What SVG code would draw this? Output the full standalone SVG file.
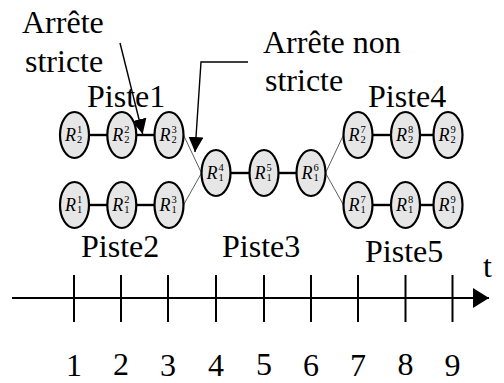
<svg xmlns="http://www.w3.org/2000/svg" width="504" height="383" viewBox="0 0 504 383" font-family="'Liberation Serif', Tinos, 'Times New Roman', 'DejaVu Serif', serif">
<defs>
<style>
text{font-family:'Liberation Serif', Tinos, 'Times New Roman', 'DejaVu Serif', serif;fill:#000}
.lbl{font-size:32px}
.node ellipse{fill:#e6e6e6;stroke:#000;stroke-width:2.2}
.r{font-size:18px;font-style:italic}
.s{font-size:10.5px}
.thick{stroke:#000;stroke-width:2.4;fill:none}
.thin{stroke:#333;stroke-width:0.8;fill:none}
.ptr{stroke:#000;stroke-width:1.4;fill:none}
.tick{stroke:#000;stroke-width:2}
</style>
<marker id="ah" markerWidth="16" markerHeight="16" refX="15" refY="7.5" orient="auto" markerUnits="userSpaceOnUse">
<path d="M0,0 L15,7.5 L0,15 Z" fill="#000"/>
</marker>
<marker id="ax" markerWidth="17" markerHeight="21" refX="16" refY="10" orient="auto" markerUnits="userSpaceOnUse">
<path d="M0,0 L16,10 L0,20 Z" fill="#000"/>
</marker>
</defs>
<rect width="504" height="383" fill="#fff"/>

<g id="connectors">
<line class="thick" x1="89" y1="135" x2="107" y2="135"/>
<line class="thick" x1="136.5" y1="135" x2="154.5" y2="135"/>
<line class="thick" x1="89" y1="205" x2="107" y2="205"/>
<line class="thick" x1="136.5" y1="205" x2="154.5" y2="205"/>
<line class="thin" x1="183.5" y1="135" x2="201.5" y2="173"/>
<line class="thin" x1="183.5" y1="205" x2="201.5" y2="173"/>
<line class="thick" x1="230.5" y1="173" x2="249.5" y2="173"/>
<line class="thick" x1="278.5" y1="173" x2="296.5" y2="173"/>
<line class="thin" x1="325.5" y1="173" x2="343.5" y2="135"/>
<line class="thin" x1="325.5" y1="173" x2="343.5" y2="205"/>
<line class="thick" x1="372.5" y1="135" x2="391" y2="135"/>
<line class="thick" x1="420" y1="135" x2="433.5" y2="135"/>
<line class="thick" x1="372.5" y1="205" x2="391" y2="205"/>
<line class="thick" x1="420" y1="205" x2="433.5" y2="205"/>
<line class="ptr" x1="120" y1="43" x2="142.7" y2="134" marker-end="url(#ah)"/>
<polyline class="ptr" points="248,62 201,62 195,152" marker-end="url(#ah)"/>
</g>

<g id="R2_1" class="node"><ellipse cx="74.5" cy="135" rx="14.5" ry="23"/><text class="r" x="65" y="141">R</text><text class="s" x="77" y="133">1</text><text class="s" x="77" y="143">2</text></g>
<g id="R2_2" class="node"><ellipse cx="121.8" cy="135" rx="14.5" ry="23"/><text class="r" x="112.3" y="141">R</text><text class="s" x="124.3" y="133">2</text><text class="s" x="124.3" y="143">2</text></g>
<g id="R2_3" class="node"><ellipse cx="169" cy="135" rx="14.5" ry="23"/><text class="r" x="159.5" y="141">R</text><text class="s" x="171.5" y="133">3</text><text class="s" x="171.5" y="143">2</text></g>
<g id="R1_1" class="node"><ellipse cx="74.5" cy="205" rx="14.5" ry="23"/><text class="r" x="65" y="211">R</text><text class="s" x="77" y="203">1</text><text class="s" x="77" y="213">1</text></g>
<g id="R1_2" class="node"><ellipse cx="121.8" cy="205" rx="14.5" ry="23"/><text class="r" x="112.3" y="211">R</text><text class="s" x="124.3" y="203">2</text><text class="s" x="124.3" y="213">1</text></g>
<g id="R1_3" class="node"><ellipse cx="169" cy="205" rx="14.5" ry="23"/><text class="r" x="159.5" y="211">R</text><text class="s" x="171.5" y="203">3</text><text class="s" x="171.5" y="213">1</text></g>
<g id="R1_4" class="node"><ellipse cx="216" cy="173" rx="14.5" ry="23"/><text class="r" x="206.5" y="179">R</text><text class="s" x="218.5" y="171">4</text><text class="s" x="218.5" y="181">1</text></g>
<g id="R1_5" class="node"><ellipse cx="264" cy="173" rx="14.5" ry="23"/><text class="r" x="254.5" y="179">R</text><text class="s" x="266.5" y="171">5</text><text class="s" x="266.5" y="181">1</text></g>
<g id="R1_6" class="node"><ellipse cx="311" cy="173" rx="14.5" ry="23"/><text class="r" x="301.5" y="179">R</text><text class="s" x="313.5" y="171">6</text><text class="s" x="313.5" y="181">1</text></g>
<g id="R2_7" class="node"><ellipse cx="358" cy="135" rx="14.5" ry="23"/><text class="r" x="348.5" y="141">R</text><text class="s" x="360.5" y="133">7</text><text class="s" x="360.5" y="143">2</text></g>
<g id="R2_8" class="node"><ellipse cx="405.5" cy="135" rx="14.5" ry="23"/><text class="r" x="396" y="141">R</text><text class="s" x="408" y="133">8</text><text class="s" x="408" y="143">2</text></g>
<g id="R2_9" class="node"><ellipse cx="448" cy="135" rx="14.5" ry="23"/><text class="r" x="438.5" y="141">R</text><text class="s" x="450.5" y="133">9</text><text class="s" x="450.5" y="143">2</text></g>
<g id="R1_7" class="node"><ellipse cx="358" cy="205" rx="14.5" ry="23"/><text class="r" x="348.5" y="211">R</text><text class="s" x="360.5" y="203">7</text><text class="s" x="360.5" y="213">1</text></g>
<g id="R1_8" class="node"><ellipse cx="405.5" cy="205" rx="14.5" ry="23"/><text class="r" x="396" y="211">R</text><text class="s" x="408" y="203">8</text><text class="s" x="408" y="213">1</text></g>
<g id="R1_9" class="node"><ellipse cx="448" cy="205" rx="14.5" ry="23"/><text class="r" x="438.5" y="211">R</text><text class="s" x="450.5" y="203">9</text><text class="s" x="450.5" y="213">1</text></g>

<g id="labels">
<text class="lbl" x="22" y="33">Arrête</text>
<text class="lbl" x="25" y="72">stricte</text>
<text class="lbl" x="263" y="53">Arrête non</text>
<text class="lbl" x="265" y="91">stricte</text>
<text class="lbl" x="87" y="107">Piste1</text>
<text class="lbl" x="368" y="107">Piste4</text>
<text class="lbl" x="81" y="257">Piste2</text>
<text class="lbl" x="222" y="257">Piste3</text>
<text class="lbl" x="365" y="262">Piste5</text>
</g>

<g id="axis">
<line class="tick" x1="12" y1="298" x2="489" y2="298" marker-end="url(#ax)"/>
<line class="tick" x1="74" y1="275" x2="74" y2="322"/>
<line class="tick" x1="121" y1="275" x2="121" y2="322"/>
<line class="tick" x1="168" y1="275" x2="168" y2="322"/>
<line class="tick" x1="216" y1="275" x2="216" y2="322"/>
<line class="tick" x1="264" y1="275" x2="264" y2="322"/>
<line class="tick" x1="311" y1="275" x2="311" y2="322"/>
<line class="tick" x1="358" y1="275" x2="358" y2="322"/>
<line class="tick" x1="405.5" y1="275" x2="405.5" y2="322"/>
<line class="tick" x1="452.5" y1="275" x2="452.5" y2="322"/>
<text class="lbl" x="483" y="277">t</text>
<g text-anchor="middle">
<text class="lbl" x="74" y="376">1</text>
<text class="lbl" x="121" y="375">2</text>
<text class="lbl" x="168" y="376">3</text>
<text class="lbl" x="216" y="376">4</text>
<text class="lbl" x="264" y="375">5</text>
<text class="lbl" x="311" y="376">6</text>
<text class="lbl" x="358" y="376">7</text>
<text class="lbl" x="405.5" y="375">8</text>
<text class="lbl" x="452.5" y="376">9</text>
</g>
</g>
</svg>
